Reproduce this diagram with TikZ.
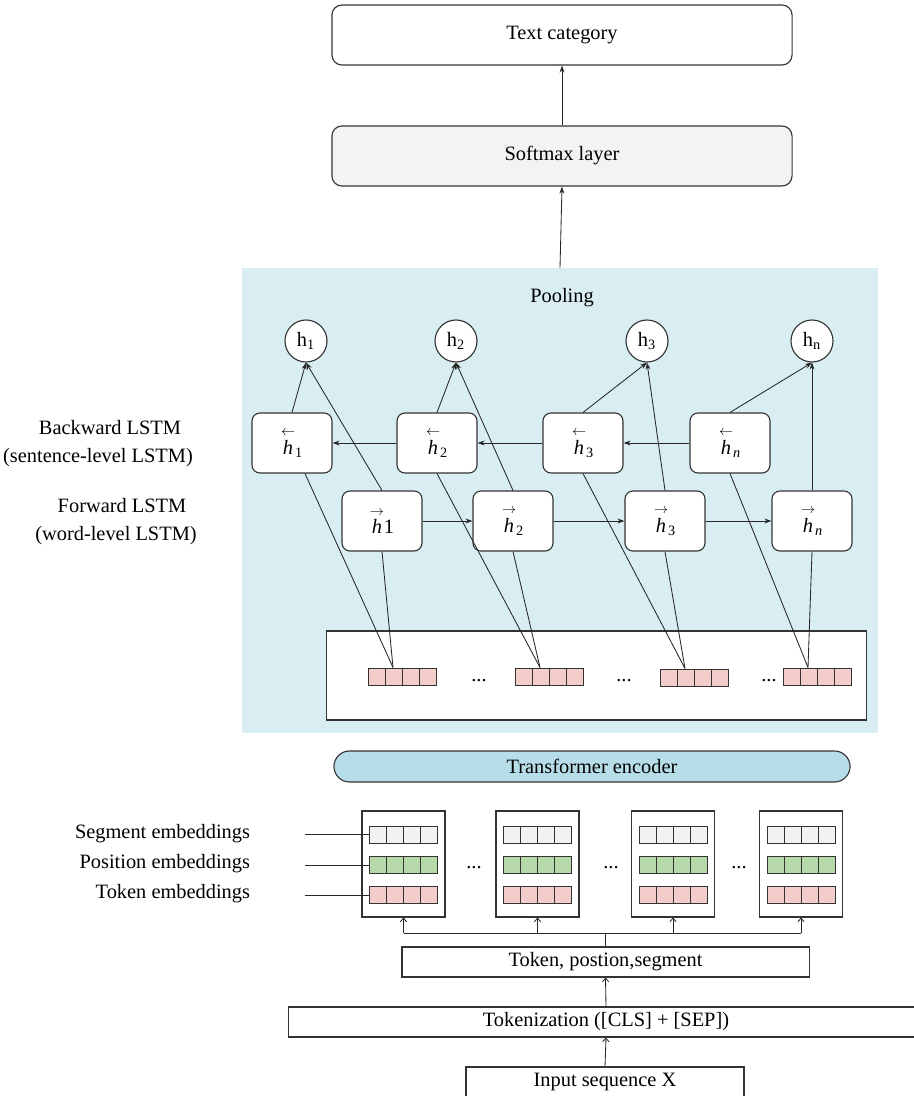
\documentclass[tikz,border=0pt]{standalone}
\usepackage{amsmath}
\usepackage{fontspec}
\setmainfont{Liberation Serif}
\usetikzlibrary{calc,arrows.meta,positioning}

\definecolor{poolblue}{HTML}{D9EEF3}
\definecolor{encblue}{HTML}{B7DEE8}
\definecolor{softgray}{HTML}{F2F3F3}
\definecolor{tokpink}{HTML}{F3CDC9}
\definecolor{posgreen}{HTML}{B7D9A9}
\definecolor{seggray}{HTML}{F1F2F2}

\newcommand{\hback}[1]{$\overset{\leftarrow}{\textit{h}}_{#1}$}
\newcommand{\hfwd}[1]{$\overset{\rightarrow}{\textit{h}}_{#1}$}

\begin{document}
\begin{tikzpicture}[x=0.025cm,y=-0.025cm,
    font=\fontsize{14.5}{17}\selectfont,
    box/.style={draw=black!80, fill=white, line width=0.8pt, minimum height=0.75cm, inner sep=0pt},
    layerbox/.style={draw=black!80, fill=white, line width=0.8pt, rounded corners=0.25cm,
        minimum width=11.5cm, minimum height=1.5cm},
    lstm/.style={draw=black!80, fill=white, line width=0.8pt, rounded corners=0.2cm,
        minimum width=2cm, minimum height=1.5cm},
    hcirc/.style={circle, draw=black!80, fill=white, line width=0.8pt, minimum size=1.05cm, inner sep=0pt},
    embbox/.style={draw=black!80, fill=white, line width=0.8pt, minimum width=2.075cm, minimum height=2.65cm},
    vecrow/.style={draw=black!80, fill=#1, line width=0.7pt, minimum width=1.7cm, minimum height=0.425cm,
        inner sep=0pt,
        path picture={\foreach \k in {1,2,3}
            \draw[black!80, line width=0.7pt]
                ($(path picture bounding box.south west)!\k/4!(path picture bounding box.south east)$) --
                ($(path picture bounding box.north west)!\k/4!(path picture bounding box.north east)$);}},
    link/.style={line width=0.6pt, black!85},
    arr/.style={link, -{Stealth[length=5pt,width=3.5pt]}},
    barb/.style={link, -{Straight Barb[length=2.5pt,width=4.5pt]}},
]
    \useasboundingbox (0,0) rectangle (913,1096);

    % Vẽ nền khối Pooling
    \node[fill=poolblue, minimum width=15.9cm, minimum height=11.625cm, inner sep=0pt] (pool) at (560,500.5) {};
    \node (pooltxt) at (562,298) {Pooling};

    % Vẽ hai hộp phía trên
    \node[layerbox] (cat) at (562,35) {Text category};
    \node[layerbox, fill=softgray] (soft) at (562,156) {Softmax layer};
    \draw[arr] (soft.north) -- (cat.south);
    \draw[arr] (pool.north) -- (soft.south);

    % Vẽ các nút h
    \node[hcirc] (c1) at (306,341) {h\textsubscript{1}};
    \node[hcirc] (c2) at (456,341) {h\textsubscript{2}};
    \node[hcirc] (c3) at (647,341) {h\textsubscript{3}};
    \node[hcirc] (c4) at (812,341) {h\textsubscript{n}};

    % Vẽ LSTM ngược
    \node[lstm] (b1) at (292,443) {\hback{\text{1}}};
    \node[lstm] (b2) at (437,443) {\hback{\text{2}}};
    \node[lstm] (b3) at (583,443) {\hback{\text{3}}};
    \node[lstm] (b4) at (730,443) {\hback{\textit{n}}};

    % Vẽ LSTM xuôi
    \node[lstm] (f1) at (382,521) {$\overset{\rightarrow}{\textit{h}}$1};
    \node[lstm] (f2) at (513,521) {\hfwd{\text{2}}};
    \node[lstm] (f3) at (665,521) {\hfwd{\text{3}}};
    \node[lstm] (f4) at (812,521) {\hfwd{\textit{n}}};

    % Nhãn bên trái
    \node (bwd1) at (110,428) {Backward LSTM};
    \node (bwd2) at (98,458) {(sentence-level LSTM)};
    \node (fwd1) at (122,506) {Forward LSTM};
    \node (fwd2) at (116,536) {(word-level LSTM)};

    % Mũi tên giữa các hộp LSTM
    \draw[arr] (b4.west) -- (b3.east);
    \draw[arr] (b3.west) -- (b2.east);
    \draw[arr] (b2.west) -- (b1.east);
    \draw[arr] (f1.east) -- (f2.west);
    \draw[arr] (f2.east) -- (f3.west);
    \draw[arr] (f3.east) -- (f4.west);

    % Mũi tên lên các nút h
    \draw[arr] (b1.north) -- (c1.south);
    \draw[arr] (f1.north) -- (c1.south);
    \draw[arr] (b2.north) -- (c2.south);
    \draw[arr] (f2.north) -- (c2.south);
    \draw[arr] (b3.north) -- (c3.south);
    \draw[arr] (f3.north) -- (c3.south);
    \draw[arr] (b4.north) -- (c4.south);
    \draw[arr] (f4.north) -- (c4.south);

    % Vẽ hộp các vector từ
    \node[draw=black!80, fill=white, line width=0.8pt, minimum width=13.475cm, minimum height=2.225cm] (words) at (596.5,675.5) {};
    \node[vecrow=tokpink] (w1) at (402,676.5) {};
    \node[vecrow=tokpink] (w2) at (549,676.5) {};
    \node[vecrow=tokpink] (w3) at (694,677.5) {};
    \node[vecrow=tokpink] (w4) at (817,676.5) {};
    \node (d1) at (479,681) {...};
    \node (d2) at (624,681) {...};
    \node (d3) at (769,681) {...};
    \coordinate (a1) at ($(w1.north)+(-9,0)$);
    \coordinate (a2) at ($(w2.north)+(-9,0)$);
    \coordinate (a3) at ($(w3.north)+(-9,0)$);
    \coordinate (a4) at ($(w4.north)+(-9,0)$);

    % Nối vector với LSTM
    \draw[link] (a1) -- ($(b1.south)+(13,0)$);
    \draw[link] (a1) -- (f1.south);
    \draw[link] (a2) -- (b2.south);
    \draw[link] (a2) -- (f2.south);
    \draw[link] (a3) -- (b3.south);
    \draw[link] (a3) -- (f3.south);
    \draw[link] (a4) -- (b4.south);
    \draw[link] (a4) -- (f4.south);

    % Vẽ Transformer encoder
    \node[draw=black!80, fill=encblue, line width=0.8pt, rounded corners=0.39cm,
        minimum width=12.9cm, minimum height=0.775cm] (enc) at (592,766.5) {Transformer encoder};

    % Vẽ các cột embedding
    \foreach \n/\x in {1/403.5,2/537.5,3/673,4/801} {
        \node[embbox] (e\n) at (\x,864) {};
        \node[vecrow=seggray] (s\n) at (\x,834.5) {};
        \node[vecrow=posgreen] (q\n) at (\x,865) {};
        \node[vecrow=tokpink] (t\n) at (\x,895) {};
    }
    \node (g1) at (474,868) {...};
    \node (g2) at (611,868) {...};
    \node (g3) at (739,868) {...};

    % Nhãn embedding
    \node[anchor=east] (seglab) at (255,834) {Segment embeddings};
    \node[anchor=east] (poslab) at (255,864) {Position embeddings};
    \node[anchor=east] (toklab) at (255,894) {Token embeddings};
    \coordinate (segend) at (305,834.5);
    \coordinate (posend) at (305,865);
    \coordinate (tokend) at (305,895);
    \draw[link] (segend) -- (s1.west);
    \draw[link] (posend) -- (q1.west);
    \draw[link] (tokend) -- (t1.west);

    % Vẽ các hộp phía dưới
    \node[box, minimum width=10.175cm] (tok) at (605.5,962) {Token, postion,segment};
    \node[box, minimum width=15.85cm] (tokz) at (606,1022) {Tokenization ([CLS] + [SEP])};
    \node[box, minimum width=6.95cm] (inp) at (605,1082) {Input sequence X};
    \draw[barb] (inp.north) -- (tokz.south);
    \draw[barb] (tokz.north) -- (tok.south);

    % Phân nhánh lên các cột
    \draw[link] (tok.north) -- ++(0,-13) coordinate (bus);
    \draw[link] (bus -| e1) -- (bus -| e4);
    \draw[barb] (bus -| e1) -- (e1.south);
    \draw[barb] (bus -| e2) -- (e2.south);
    \draw[barb] (bus -| e3) -- (e3.south);
    \draw[barb] (bus -| e4) -- (e4.south);
\end{tikzpicture}
\end{document}
